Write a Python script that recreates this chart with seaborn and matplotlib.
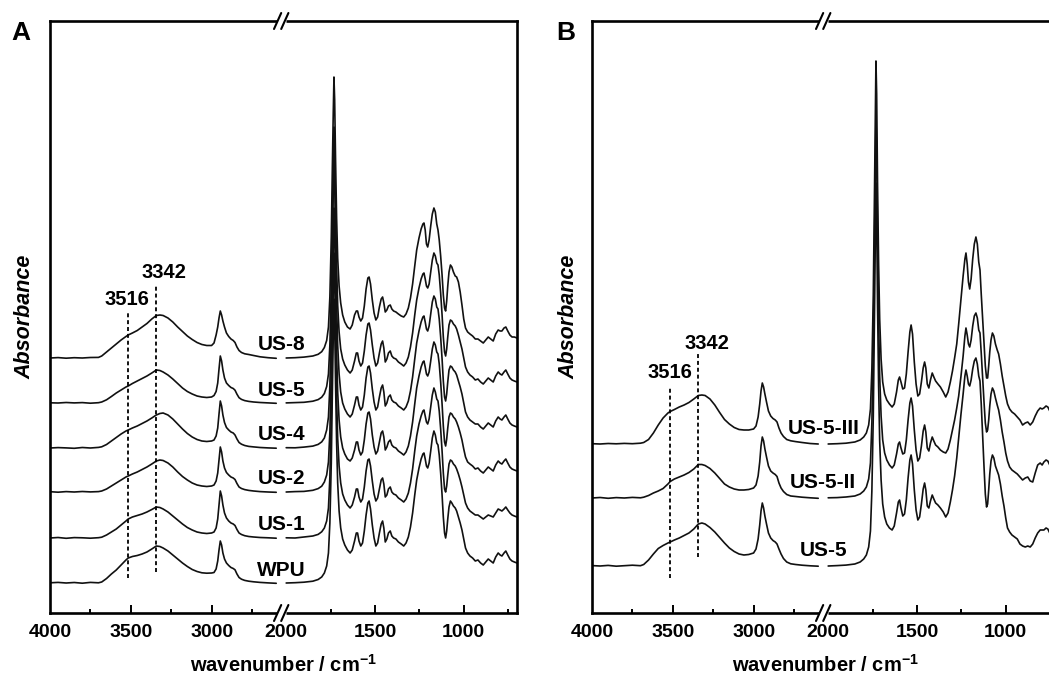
import numpy as np
import pandas as pd
import matplotlib
matplotlib.use("Agg")
import matplotlib.pyplot as plt
import seaborn as sns

# ---------------------------------------------------------------------------
# FTIR spectra of the WPU / US series (absorbance, arbitrary units).
# Each spectrum is stored in two parts on either side of the axis break.
# ---------------------------------------------------------------------------
WN_HIGH = [4000, 3950, 3900, 3850, 3800, 3750, 3700, 3680, 3650, 3620, 3590, 3560,
           3530, 3516, 3490, 3460, 3430, 3400, 3370, 3342, 3320, 3300, 3270, 3240,
           3210, 3180, 3150, 3120, 3090, 3060, 3030, 3000, 2985, 2972, 2962, 2954,
           2946, 2938, 2930, 2920, 2908, 2894, 2880, 2866, 2855, 2843, 2830, 2815,
           2795, 2770, 2740, 2700, 2650, 2600]

WN_LOW = [2000, 1950, 1900, 1850, 1820, 1800, 1785, 1772, 1762, 1754,
          1746, 1740, 1735, 1731, 1727, 1722, 1716, 1710, 1702, 1693,
          1682, 1670, 1655, 1640, 1628, 1615, 1605, 1598, 1590, 1580,
          1570, 1560, 1550, 1540, 1533, 1525, 1515, 1505, 1495, 1485,
          1475, 1465, 1457, 1450, 1442, 1433, 1424, 1414, 1405, 1395,
          1382, 1368, 1352, 1338, 1325, 1312, 1300, 1288, 1276, 1265,
          1252, 1240, 1230, 1224, 1217, 1210, 1203, 1195, 1186, 1177,
          1168, 1160, 1152, 1145, 1138, 1130, 1122, 1115, 1108, 1102,
          1096, 1090, 1083, 1075, 1067, 1058, 1048, 1040, 1030, 1020,
          1010, 1000, 990, 978, 965, 950, 935, 920, 905, 890,
          876, 862, 848, 834, 820, 806, 795, 785, 773, 763,
          752, 740, 728, 715, 700]

# ----- panel A -------------------------------------------------------------
WPU_HIGH = [0.002, 0.006, 0.000, 0.005, -0.002, 0.006, 0.002, 0.010, 0.045, 0.090, 0.130, 0.180,
            0.230, 0.250, 0.265, 0.275, 0.290, 0.310, 0.340, 0.370, 0.365, 0.350, 0.320, 0.280,
            0.240, 0.200, 0.165, 0.135, 0.115, 0.102, 0.098, 0.100, 0.105, 0.140, 0.220, 0.330,
            0.420, 0.380, 0.300, 0.240, 0.200, 0.175, 0.155, 0.145, 0.132, 0.090, 0.055, 0.038,
            0.026, 0.018, 0.012, 0.006, 0.001, -0.003]
WPU_LOW = [0.000, 0.003, 0.008, 0.018, 0.035, 0.060, 0.100, 0.170, 0.300, 0.600,
           1.200, 1.900, 2.450, 2.840, 2.600, 2.000, 1.400, 1.000, 0.720, 0.550,
           0.440, 0.380, 0.330, 0.300, 0.330, 0.420, 0.500, 0.500, 0.420, 0.370,
           0.400, 0.520, 0.680, 0.800, 0.820, 0.740, 0.580, 0.450, 0.370, 0.400,
           0.500, 0.590, 0.620, 0.550, 0.410, 0.440, 0.500, 0.520, 0.470, 0.450,
           0.440, 0.410, 0.390, 0.370, 0.400, 0.460, 0.560, 0.700, 0.880, 1.030,
           1.150, 1.240, 1.290, 1.300, 1.240, 1.170, 1.150, 1.200, 1.320, 1.450,
           1.520, 1.480, 1.400, 1.380, 1.280, 1.100, 0.880, 0.660, 0.500, 0.450,
           0.520, 0.640, 0.760, 0.820, 0.800, 0.770, 0.750, 0.720, 0.660, 0.600,
           0.530, 0.440, 0.350, 0.300, 0.270, 0.250, 0.220, 0.230, 0.200, 0.180,
           0.210, 0.240, 0.220, 0.200, 0.260, 0.300, 0.280, 0.270, 0.300, 0.320,
           0.280, 0.240, 0.220, 0.210, 0.200]

US1_HIGH = [0.000, 0.005, -0.003, 0.004, 0.002, -0.002, 0.003, 0.008, 0.030, 0.060, 0.090, 0.130,
            0.170, 0.190, 0.210, 0.225, 0.240, 0.260, 0.285, 0.310, 0.305, 0.290, 0.260, 0.220,
            0.180, 0.140, 0.105, 0.080, 0.060, 0.050, 0.045, 0.050, 0.060, 0.100, 0.190, 0.330,
            0.470, 0.420, 0.330, 0.250, 0.200, 0.170, 0.150, 0.140, 0.125, 0.085, 0.050, 0.035,
            0.023, 0.015, 0.010, 0.005, 0.002, -0.002]
US1_LOW = [0.002, 0.000, 0.010, 0.020, 0.036, 0.062, 0.100, 0.170, 0.300, 0.610,
           1.220, 1.920, 2.460, 2.850, 2.620, 2.020, 1.410, 1.000, 0.720, 0.550,
           0.440, 0.380, 0.330, 0.300, 0.330, 0.410, 0.490, 0.490, 0.410, 0.360,
           0.390, 0.510, 0.670, 0.780, 0.790, 0.720, 0.570, 0.440, 0.370, 0.400,
           0.490, 0.580, 0.600, 0.540, 0.410, 0.430, 0.490, 0.510, 0.460, 0.440,
           0.430, 0.400, 0.380, 0.360, 0.390, 0.450, 0.550, 0.690, 0.870, 1.020,
           1.140, 1.220, 1.270, 1.280, 1.220, 1.160, 1.140, 1.190, 1.310, 1.430,
           1.500, 1.460, 1.390, 1.370, 1.270, 1.090, 0.870, 0.650, 0.490, 0.460,
           0.520, 0.630, 0.740, 0.780, 0.770, 0.740, 0.720, 0.690, 0.640, 0.580,
           0.510, 0.430, 0.350, 0.300, 0.270, 0.250, 0.230, 0.230, 0.210, 0.190,
           0.210, 0.230, 0.220, 0.210, 0.250, 0.290, 0.280, 0.270, 0.290, 0.310,
           0.280, 0.250, 0.230, 0.220, 0.210]

US2_HIGH = [0.003, -0.002, 0.004, 0.000, 0.005, 0.001, 0.004, 0.010, 0.030, 0.060, 0.090, 0.120,
            0.150, 0.160, 0.180, 0.200, 0.225, 0.250, 0.280, 0.310, 0.320, 0.315, 0.290, 0.250,
            0.200, 0.155, 0.120, 0.090, 0.070, 0.060, 0.055, 0.060, 0.070, 0.110, 0.190, 0.320,
            0.450, 0.400, 0.310, 0.240, 0.195, 0.170, 0.150, 0.140, 0.125, 0.085, 0.050, 0.035,
            0.024, 0.016, 0.010, 0.004, 0.000, -0.003]
US2_LOW = [0.000, 0.004, 0.006, 0.017, 0.034, 0.058, 0.100, 0.170, 0.300, 0.600,
           1.210, 1.910, 2.450, 2.840, 2.610, 2.010, 1.400, 1.000, 0.720, 0.550,
           0.440, 0.380, 0.330, 0.310, 0.340, 0.420, 0.500, 0.500, 0.420, 0.370,
           0.400, 0.520, 0.680, 0.790, 0.800, 0.730, 0.570, 0.450, 0.380, 0.410,
           0.500, 0.590, 0.610, 0.550, 0.420, 0.450, 0.500, 0.520, 0.470, 0.450,
           0.440, 0.410, 0.390, 0.370, 0.400, 0.460, 0.560, 0.700, 0.880, 1.040,
           1.160, 1.250, 1.300, 1.310, 1.250, 1.180, 1.160, 1.200, 1.310, 1.430,
           1.500, 1.470, 1.400, 1.380, 1.280, 1.100, 0.880, 0.660, 0.500, 0.460,
           0.530, 0.640, 0.750, 0.790, 0.780, 0.750, 0.730, 0.700, 0.650, 0.590,
           0.520, 0.430, 0.350, 0.300, 0.280, 0.260, 0.230, 0.240, 0.210, 0.190,
           0.220, 0.250, 0.230, 0.210, 0.270, 0.310, 0.290, 0.280, 0.310, 0.330,
           0.290, 0.250, 0.230, 0.220, 0.210]

US4_HIGH = [0.000, 0.004, 0.001, -0.003, 0.005, 0.000, 0.006, 0.012, 0.035, 0.070, 0.105, 0.140,
            0.170, 0.180, 0.200, 0.220, 0.245, 0.270, 0.300, 0.330, 0.345, 0.350, 0.330, 0.290,
            0.240, 0.190, 0.145, 0.110, 0.085, 0.070, 0.065, 0.070, 0.080, 0.120, 0.200, 0.340,
            0.470, 0.420, 0.330, 0.255, 0.205, 0.180, 0.160, 0.150, 0.130, 0.090, 0.055, 0.038,
            0.025, 0.016, 0.011, 0.005, 0.001, -0.002]
US4_LOW = [0.003, 0.002, 0.009, 0.019, 0.036, 0.061, 0.100, 0.180, 0.310, 0.620,
           1.250, 1.980, 2.550, 2.950, 2.700, 2.080, 1.450, 1.030, 0.740, 0.560,
           0.450, 0.390, 0.340, 0.310, 0.340, 0.430, 0.510, 0.510, 0.430, 0.380,
           0.410, 0.530, 0.700, 0.810, 0.820, 0.750, 0.590, 0.460, 0.380, 0.410,
           0.510, 0.600, 0.630, 0.560, 0.420, 0.450, 0.510, 0.530, 0.480, 0.460,
           0.450, 0.420, 0.400, 0.380, 0.410, 0.470, 0.570, 0.710, 0.890, 1.050,
           1.170, 1.260, 1.310, 1.320, 1.260, 1.190, 1.170, 1.220, 1.340, 1.460,
           1.520, 1.490, 1.410, 1.390, 1.290, 1.110, 0.890, 0.670, 0.510, 0.470,
           0.540, 0.660, 0.780, 0.820, 0.810, 0.780, 0.760, 0.730, 0.670, 0.610,
           0.540, 0.450, 0.360, 0.310, 0.280, 0.260, 0.240, 0.240, 0.210, 0.190,
           0.220, 0.250, 0.230, 0.210, 0.270, 0.310, 0.290, 0.280, 0.310, 0.330,
           0.290, 0.250, 0.230, 0.220, 0.210]

US5_HIGH = [0.002, 0.000, 0.005, 0.001, 0.004, -0.002, 0.003, 0.010, 0.032, 0.065, 0.100, 0.130,
            0.160, 0.170, 0.195, 0.220, 0.245, 0.270, 0.300, 0.330, 0.325, 0.310, 0.280, 0.240,
            0.195, 0.150, 0.115, 0.090, 0.070, 0.060, 0.055, 0.060, 0.075, 0.115, 0.200, 0.340,
            0.470, 0.420, 0.330, 0.250, 0.200, 0.175, 0.155, 0.145, 0.128, 0.088, 0.053, 0.036,
            0.024, 0.016, 0.010, 0.005, 0.001, -0.003]
US5_LOW = [0.001, 0.004, 0.007, 0.018, 0.034, 0.058, 0.095, 0.165, 0.290, 0.580,
           1.170, 1.850, 2.380, 2.760, 2.530, 1.950, 1.370, 0.980, 0.710, 0.540,
           0.440, 0.380, 0.330, 0.300, 0.330, 0.420, 0.500, 0.500, 0.420, 0.370,
           0.400, 0.520, 0.680, 0.790, 0.800, 0.730, 0.580, 0.450, 0.370, 0.400,
           0.500, 0.590, 0.620, 0.550, 0.410, 0.440, 0.500, 0.520, 0.470, 0.450,
           0.440, 0.410, 0.390, 0.370, 0.400, 0.460, 0.560, 0.700, 0.880, 1.030,
           1.150, 1.240, 1.290, 1.300, 1.240, 1.170, 1.150, 1.190, 1.310, 1.430,
           1.500, 1.470, 1.400, 1.380, 1.280, 1.100, 0.880, 0.660, 0.510, 0.470,
           0.540, 0.660, 0.780, 0.830, 0.820, 0.790, 0.770, 0.740, 0.680, 0.610,
           0.540, 0.450, 0.360, 0.310, 0.280, 0.260, 0.230, 0.240, 0.210, 0.190,
           0.220, 0.250, 0.230, 0.210, 0.270, 0.310, 0.290, 0.280, 0.310, 0.330,
           0.290, 0.250, 0.230, 0.220, 0.210]

US8_HIGH = [0.000, 0.004, -0.002, 0.003, 0.000, 0.005, 0.006, 0.020, 0.060, 0.100, 0.140, 0.180,
            0.215, 0.230, 0.250, 0.275, 0.310, 0.345, 0.390, 0.425, 0.430, 0.425, 0.400, 0.360,
            0.310, 0.265, 0.220, 0.185, 0.155, 0.135, 0.125, 0.125, 0.150, 0.230, 0.310, 0.400,
            0.470, 0.430, 0.370, 0.310, 0.250, 0.215, 0.190, 0.175, 0.155, 0.110, 0.075, 0.055,
            0.042, 0.035, 0.025, 0.012, 0.003, -0.003]
US8_LOW = [0.000, 0.003, 0.009, 0.020, 0.037, 0.063, 0.105, 0.175, 0.310, 0.610,
           1.210, 1.910, 2.440, 2.810, 2.580, 1.990, 1.400, 1.000, 0.720, 0.550,
           0.430, 0.360, 0.310, 0.290, 0.330, 0.430, 0.470, 0.470, 0.410, 0.370,
           0.400, 0.520, 0.690, 0.800, 0.810, 0.740, 0.580, 0.450, 0.380, 0.410,
           0.510, 0.590, 0.610, 0.550, 0.460, 0.480, 0.520, 0.530, 0.490, 0.470,
           0.460, 0.440, 0.420, 0.410, 0.440, 0.500, 0.600, 0.740, 0.920, 1.080,
           1.200, 1.290, 1.340, 1.350, 1.280, 1.140, 1.110, 1.180, 1.320, 1.440,
           1.500, 1.460, 1.340, 1.280, 1.180, 1.020, 0.830, 0.630, 0.500, 0.470,
           0.570, 0.720, 0.860, 0.930, 0.910, 0.860, 0.820, 0.810, 0.760, 0.660,
           0.530, 0.390, 0.300, 0.260, 0.240, 0.220, 0.190, 0.190, 0.170, 0.150,
           0.180, 0.210, 0.190, 0.170, 0.240, 0.280, 0.270, 0.270, 0.300, 0.310,
           0.270, 0.230, 0.210, 0.210, 0.200]

A_SAMPLES = ["WPU", "US-1", "US-2", "US-4", "US-5", "US-8"]
A_HIGH = [WPU_HIGH, US1_HIGH, US2_HIGH, US4_HIGH, US5_HIGH, US8_HIGH]
A_LOW = [WPU_LOW, US1_LOW, US2_LOW, US4_LOW, US5_LOW, US8_LOW]
A_OFFSETS = [0.30, 0.75, 1.21, 1.65, 2.10, 2.55]   # vertical stacking of the traces

# ----- panel B -------------------------------------------------------------
B5_HIGH = [0.004, 0.000, 0.006, -0.002, 0.003, 0.008, 0.003, 0.015, 0.060, 0.120, 0.175, 0.205,
           0.230, 0.240, 0.260, 0.280, 0.305, 0.330, 0.370, 0.420, 0.430, 0.420, 0.385, 0.340,
           0.285, 0.230, 0.180, 0.145, 0.120, 0.110, 0.115, 0.130, 0.170, 0.270, 0.410, 0.550,
           0.630, 0.580, 0.500, 0.420, 0.330, 0.280, 0.255, 0.240, 0.220, 0.170, 0.120, 0.075,
           0.040, 0.022, 0.015, 0.008, 0.002, -0.002]
B5_LOW = [0.000, 0.004, 0.009, 0.020, 0.040, 0.070, 0.110, 0.190, 0.350, 0.750,
          1.500, 2.400, 3.200, 3.830, 3.500, 2.600, 1.800, 1.250, 0.860, 0.620,
          0.490, 0.420, 0.380, 0.360, 0.400, 0.530, 0.640, 0.660, 0.580, 0.500,
          0.520, 0.660, 0.880, 1.060, 1.110, 1.020, 0.760, 0.560, 0.460, 0.490,
          0.620, 0.770, 0.830, 0.760, 0.600, 0.580, 0.650, 0.710, 0.670, 0.630,
          0.610, 0.580, 0.540, 0.490, 0.530, 0.640, 0.760, 0.900, 1.080, 1.280,
          1.520, 1.720, 1.900, 1.960, 1.900, 1.820, 1.800, 1.860, 1.970, 2.050,
          2.080, 2.020, 1.900, 1.850, 1.620, 1.300, 0.980, 0.720, 0.590, 0.620,
          0.760, 0.920, 1.050, 1.110, 1.080, 1.000, 0.950, 0.910, 0.820, 0.700,
          0.600, 0.480, 0.380, 0.340, 0.310, 0.290, 0.270, 0.220, 0.200, 0.190,
          0.200, 0.190, 0.220, 0.280, 0.330, 0.360, 0.360, 0.360, 0.380, 0.370,
          0.330, 0.300, 0.280, 0.270, 0.260]

B5II_HIGH = [0.000, 0.005, -0.003, 0.004, 0.000, 0.006, 0.002, 0.008, 0.025, 0.050, 0.070, 0.095,
             0.140, 0.165, 0.190, 0.210, 0.230, 0.255, 0.290, 0.335, 0.335, 0.325, 0.295, 0.250,
             0.195, 0.140, 0.110, 0.090, 0.080, 0.080, 0.085, 0.100, 0.130, 0.220, 0.360, 0.520,
             0.610, 0.570, 0.490, 0.410, 0.320, 0.270, 0.250, 0.235, 0.215, 0.150, 0.100, 0.065,
             0.035, 0.020, 0.015, 0.008, 0.002, -0.003]
B5II_LOW = [0.002, 0.004, 0.010, 0.020, 0.040, 0.070, 0.110, 0.190, 0.350, 0.750,
            1.500, 2.400, 3.180, 3.810, 3.480, 2.580, 1.780, 1.220, 0.820, 0.580,
            0.450, 0.380, 0.330, 0.300, 0.330, 0.440, 0.540, 0.560, 0.500, 0.440,
            0.450, 0.580, 0.780, 0.950, 1.000, 0.920, 0.680, 0.480, 0.370, 0.400,
            0.520, 0.670, 0.730, 0.660, 0.500, 0.470, 0.550, 0.610, 0.570, 0.530,
            0.510, 0.480, 0.460, 0.450, 0.490, 0.580, 0.680, 0.780, 0.900, 1.020,
            1.220, 1.420, 1.620, 1.700, 1.630, 1.540, 1.510, 1.580, 1.720, 1.820,
            1.850, 1.800, 1.680, 1.650, 1.450, 1.200, 0.950, 0.750, 0.660, 0.680,
            0.780, 0.920, 1.040, 1.100, 1.070, 1.000, 0.930, 0.880, 0.780, 0.660,
            0.560, 0.450, 0.370, 0.310, 0.280, 0.260, 0.240, 0.210, 0.180, 0.200,
            0.210, 0.170, 0.160, 0.250, 0.330, 0.350, 0.330, 0.360, 0.380, 0.370,
            0.330, 0.300, 0.280, 0.270, 0.260]

B5III_HIGH = [0.003, 0.000, 0.005, 0.002, 0.006, 0.003, 0.008, 0.015, 0.045, 0.110, 0.190, 0.260,
              0.310, 0.325, 0.345, 0.370, 0.390, 0.415, 0.450, 0.485, 0.490, 0.485, 0.450, 0.390,
              0.315, 0.245, 0.200, 0.165, 0.145, 0.140, 0.140, 0.150, 0.180, 0.270, 0.400, 0.530,
              0.610, 0.570, 0.500, 0.420, 0.330, 0.280, 0.255, 0.240, 0.220, 0.160, 0.110, 0.075,
              0.045, 0.032, 0.024, 0.015, 0.005, 0.000]
B5III_LOW = [0.000, 0.003, 0.008, 0.020, 0.040, 0.070, 0.110, 0.190, 0.350, 0.750,
             1.500, 2.400, 3.200, 3.830, 3.500, 2.600, 1.800, 1.250, 0.850, 0.620,
             0.500, 0.440, 0.400, 0.370, 0.400, 0.520, 0.640, 0.670, 0.620, 0.550,
             0.560, 0.700, 0.920, 1.120, 1.190, 1.100, 0.820, 0.600, 0.480, 0.500,
             0.620, 0.760, 0.820, 0.760, 0.600, 0.560, 0.640, 0.710, 0.670, 0.630,
             0.600, 0.570, 0.520, 0.470, 0.520, 0.620, 0.730, 0.860, 1.000, 1.200,
             1.450, 1.680, 1.850, 1.910, 1.800, 1.620, 1.550, 1.650, 1.850, 2.000,
             2.070, 2.000, 1.820, 1.740, 1.500, 1.250, 1.000, 0.780, 0.660, 0.660,
             0.780, 0.920, 1.040, 1.110, 1.080, 1.000, 0.940, 0.900, 0.800, 0.680,
             0.580, 0.480, 0.400, 0.350, 0.320, 0.300, 0.270, 0.240, 0.190, 0.210,
             0.220, 0.190, 0.220, 0.280, 0.330, 0.360, 0.350, 0.360, 0.380, 0.370,
             0.330, 0.300, 0.280, 0.270, 0.260]

B_SAMPLES = ["US-5", "US-5-II", "US-5-III"]
B_HIGH = [B5_HIGH, B5II_HIGH, B5III_HIGH]
B_LOW = [B5_LOW, B5II_LOW, B5III_LOW]
B_OFFSETS = [0.47, 1.15, 1.69]

MAJOR_TICKS = [4000, 3500, 3000, 2000, 1500, 1000]
MINOR_TICKS = [3750, 3250, 2750, 1750, 1250, 750]
BANDS = [3516, 3342]

# ---------------------------------------------------------------------------
# Broken wavenumber axis: 4000-2600 and 2000-700 cm-1, with a narrow gap.
# ---------------------------------------------------------------------------
HI_END, LO_START = 2600.0, 2000.0
K_HI, K_GAP, K_LO = 0.162, 10.0 / 600.0, 0.178
T1 = (4000.0 - HI_END) * K_HI
T2 = T1 + (HI_END - LO_START) * K_GAP


def axis_forward(x):
    x = np.asarray(x, dtype=float)
    t = np.where(x >= HI_END, (4000.0 - x) * K_HI,
                 np.where(x >= LO_START, T1 + (HI_END - x) * K_GAP,
                          T2 + (LO_START - x) * K_LO))
    return -t


def axis_inverse(u):
    t = -np.asarray(u, dtype=float)
    return np.where(t <= T1, 4000.0 - t / K_HI,
                    np.where(t <= T2, HI_END - (t - T1) / K_GAP,
                             LO_START - (t - T2) / K_LO))


def spectra_frame(samples, highs, lows, offsets):
    parts = []
    for name, hi, lo, off in zip(samples, highs, lows, offsets):
        for seg, wn, ab in (("high", WN_HIGH, hi), ("low", WN_LOW, lo)):
            if len(wn) != len(ab):
                raise ValueError(f"{name} {seg}: {len(ab)} values for {len(wn)} wavenumbers")
            parts.append(pd.DataFrame({"wavenumber": wn,
                                       "absorbance": np.asarray(ab) + off,
                                       "sample": name, "segment": seg}))
    return pd.concat(parts, ignore_index=True)


sns.set_style("ticks")
plt.rcParams["font.family"] = ["Liberation Sans", "DejaVu Sans"]
plt.rcParams["font.weight"] = "bold"
plt.rcParams["axes.labelweight"] = "bold"
plt.rcParams["text.color"] = "black"
plt.rcParams["axes.labelcolor"] = "black"
plt.rcParams["xtick.color"] = "black"
plt.rcParams["xtick.labelcolor"] = "black"
plt.rcParams["mathtext.fontset"] = "custom"
plt.rcParams["mathtext.rm"] = "Liberation Sans"
plt.rcParams["mathtext.bf"] = "Liberation Sans:bold"
plt.rcParams["mathtext.default"] = "bf"

W, H = 1049, 674
fig = plt.figure(figsize=(W / 100, H / 100), dpi=100)
ax_a = fig.add_axes([50 / W, 61 / H, 467 / W, 592 / H])
ax_b = fig.add_axes([592 / W, 61 / H, 467 / W, 592 / H])

LINE = "#111111"


def draw_panel(ax, samples, highs, lows, offsets):
    df = spectra_frame(samples, highs, lows, offsets)
    sns.lineplot(data=df, x="wavenumber", y="absorbance", hue="sample",
                 units="segment", estimator=None, palette={s: LINE for s in samples},
                 legend=False, linewidth=1.2, ax=ax)
    ax.set_xscale("function", functions=(axis_forward, axis_inverse))
    ax.set_xlim(4000, 700)
    ax.set_ylim(0, 5.92)
    ax.set_yticks([])
    ax.set_ylabel("")
    ax.set_xticks(MAJOR_TICKS)
    ax.set_xticklabels([str(t) for t in MAJOR_TICKS])
    ax.set_xticks(MINOR_TICKS, minor=True)
    ax.tick_params(axis="x", which="major", direction="in", length=5.5, width=1.4,
                   labelsize=14, pad=8, top=False, colors="black")
    ax.tick_params(axis="x", which="minor", direction="in", length=3, width=1.4, top=False,
                   colors="black")
    ax.tick_params(axis="y", left=False, right=False)
    for spine in ax.spines.values():
        spine.set_visible(True)
        spine.set_linewidth(1.9)
        spine.set_color("black")
    ticks = ax.xaxis.get_major_ticks()
    for i in (0, 3):
        ticks[i].tick1line.set_visible(False)
    ax.set_xlabel(r"wavenumber / cm$^{-1}$", fontsize=14.5, labelpad=9, color="black")

    # axis-break marks on the top and bottom frame lines
    f = (axis_forward(2300) - axis_forward(4000)) / (axis_forward(700) - axis_forward(4000))
    f = float(f)
    wpx, hpx = 467.0, 592.0
    for yb in (0.0, 1.0):
        ax.plot([f - 4.5 / wpx, f + 4.5 / wpx], [yb, yb], transform=ax.transAxes,
                color="white", lw=3.5, clip_on=False, zorder=5, solid_capstyle="butt")
        for dx in (-3.6, 3.6):
            ax.plot([f + (dx - 3.6) / wpx, f + (dx + 3.6) / wpx],
                    [yb - 8 / hpx, yb + 8 / hpx], transform=ax.transAxes,
                    color="black", lw=1.5, clip_on=False, zorder=6)


draw_panel(ax_a, A_SAMPLES, A_HIGH, A_LOW, A_OFFSETS)
draw_panel(ax_b, B_SAMPLES, B_HIGH, B_LOW, B_OFFSETS)

# sample names above each trace, centred on the break
for name, off in zip(A_SAMPLES, A_OFFSETS):
    ax_a.text(2300, off + 0.075, name, ha="center", va="baseline", fontsize=15)
for name, off in zip(B_SAMPLES, B_OFFSETS):
    ax_b.text(2300, off + 0.095, name, ha="center", va="baseline", fontsize=15)

# marked O-H / N-H bands
DASH = (0, (2.2, 1.6))
ax_a.vlines(BANDS[0], 0.35, 3.01, colors="black", linestyles=[DASH], lw=1.3, zorder=4)
ax_a.vlines(BANDS[1], 0.41, 3.28, colors="black", linestyles=[DASH], lw=1.3, zorder=4)
ax_a.text(3525, 3.08, str(BANDS[0]), ha="center", va="baseline", fontsize=14.5)
ax_a.text(3296, 3.35, str(BANDS[1]), ha="center", va="baseline", fontsize=14.5)
ax_b.vlines(BANDS[0], 0.35, 2.26, colors="black", linestyles=[DASH], lw=1.3, zorder=4)
ax_b.vlines(BANDS[1], 0.56, 2.60, colors="black", linestyles=[DASH], lw=1.3, zorder=4)
ax_b.text(3519, 2.35, str(BANDS[0]), ha="center", va="baseline", fontsize=14.5)
ax_b.text(3290, 2.64, str(BANDS[1]), ha="center", va="baseline", fontsize=14.5)

# panel letters and y-axis titles
fig.text(21 / W, 1 - 33 / H, "A", ha="center", va="center", fontsize=19)
fig.text(566 / W, 1 - 33 / H, "B", ha="center", va="center", fontsize=19)
for xc in (25, 569):
    fig.text(xc / W, 1 - 317 / H, "Absorbance", rotation=90, ha="center", va="center",
             fontsize=15.5, style="italic")

fig.savefig("out.png", dpi=100)
